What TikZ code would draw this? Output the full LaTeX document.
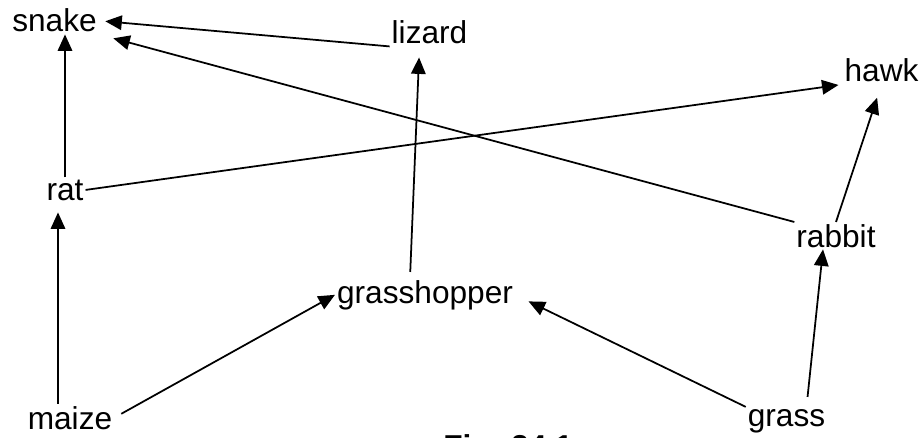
\documentclass[tikz,border=0pt]{standalone}
\usepackage{fontspec}
\setmainfont{Liberation Sans}
\usetikzlibrary{arrows.meta}

\tikzset{
	organism/.style={font=\fontsize{18}{21}\selectfont, inner sep=1pt, anchor=base},
	feeds/.style={-{Triangle[length=0.33cm,width=0.29cm]}, line width=1pt}
}

\begin{document}
\begin{tikzpicture}

	\useasboundingbox (0,0) rectangle (18.48,8.74);

	% organisms
	\node[organism] (snake) at (1.09,8.10) {snake};
	\node[organism] (lizard) at (8.59,7.86) {lizard};
	\node[organism] (hawk) at (17.63,7.10) {hawk};
	\node[organism] (rat) at (1.30,4.74) {rat};
	\node[organism] (rabbit) at (16.72,3.80) {rabbit};
	\node[organism] (grasshopper) at (8.50,2.68) {grasshopper};
	\node[organism] (maize) at (1.40,0.16) {maize};
	\node[organism] (grass) at (15.73,0.22) {grass};

	% caption, cut off by the page
	\node[organism, font=\fontsize{18}{21}\selectfont\bfseries] (caption) at (10.16,-0.41) {Fig. 24.1};

	% energy flow
	\draw[feeds] (rat.north) -- (rat.north |- snake.south);
	\draw[feeds, shorten >=0.2cm] ([xshift=-0.24cm]maize.north) -- ([xshift=-0.24cm]maize.north |- rat.south);
	\draw[feeds, shorten <=0.16cm] (maize.east) -- (grasshopper.west);
	\draw[feeds, shorten >=0.3cm] (grass.north west) -- (grasshopper.east);
	\draw[feeds, shorten <=0.2cm] ([xshift=0.4cm]grass.north) -- ([xshift=-0.26cm]rabbit.south);
	\draw[feeds, shorten >=0.28cm] (rabbit.north) -- (hawk.south);
	\draw[feeds, shorten >=0.3cm] (rabbit.north west) -- (snake.south east);
	\draw[feeds, shorten >=0.13cm] (lizard.south west) -- (snake.east);
	\draw[feeds, shorten <=0.12cm, shorten >=0.22cm] ([xshift=-0.3cm]grasshopper.north) -- ([xshift=-0.2cm]lizard.south);
	\draw[feeds, shorten >=0.08cm] (rat.east) -- (hawk.south west);

\end{tikzpicture}
\end{document}
